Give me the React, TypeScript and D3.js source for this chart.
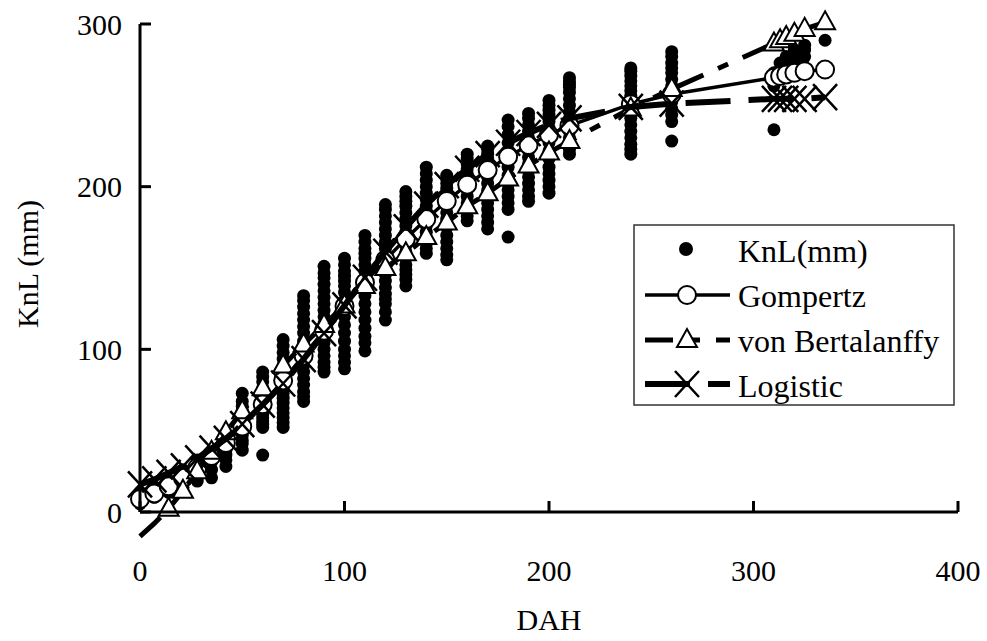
import React from 'react';
import * as d3 from 'd3';

// 观测日 (DAH)
const days = [0, 7, 14, 21, 28, 35, 42, 50, 60, 70, 80, 90, 100, 110, 120, 130, 140, 150, 160, 170, 180, 190, 200, 210, 240, 260, 310, 313, 316, 320, 325, 335];

// 实测 KnL(mm)，每个观测日若干株
const knl = [
  [5, 8, 10, 12],
  [9, 12, 15],
  [12, 15, 19],
  [15, 19, 23, 26],
  [19, 24, 28, 32],
  [21, 26, 31, 36],
  [28, 32, 35, 38, 41, 44, 47],
  [38, 42, 44, 47, 49, 52, 55, 58, 62, 65, 68, 73],
  [35, 52, 54, 56, 58, 60, 63, 66, 69, 72, 76, 80, 83, 86],
  [52, 55, 58, 61, 64, 67, 70, 73, 76, 79, 82, 86, 90, 94, 98, 102, 106],
  [68, 71, 74, 78, 82, 86, 90, 95, 100, 105, 110, 114, 118, 122, 126, 130, 133],
  [86, 89, 92, 96, 100, 104, 108, 112, 116, 120, 124, 128, 132, 136, 140, 144, 147, 151],
  [88, 92, 96, 100, 105, 110, 115, 120, 125, 130, 135, 139, 142, 145, 148, 152, 156],
  [99, 104, 108, 113, 118, 123, 128, 133, 138, 143, 148, 152, 156, 159, 162, 166, 170],
  [118, 123, 128, 131, 134, 138, 142, 146, 150, 154, 158, 162, 166, 170, 174, 178, 182, 186, 189],
  [139, 143, 146, 149, 152, 156, 160, 164, 168, 172, 176, 180, 184, 188, 191, 194, 197],
  [159, 162, 165, 168, 172, 176, 180, 184, 188, 192, 196, 200, 204, 208, 212],
  [155, 158, 162, 166, 170, 175, 180, 184, 188, 192, 196, 199, 202, 205, 207],
  [179, 182, 186, 190, 194, 198, 202, 205, 208, 211, 214, 217, 220],
  [174, 178, 182, 186, 190, 194, 198, 202, 206, 210, 214, 217, 220, 223, 225],
  [169, 186, 190, 194, 198, 202, 207, 212, 217, 222, 227, 232, 237, 241],
  [191, 194, 198, 202, 206, 210, 214, 218, 222, 226, 230, 234, 238, 242, 245],
  [196, 200, 204, 208, 212, 217, 222, 227, 232, 236, 240, 244, 247, 250, 253],
  [220, 223, 226, 230, 234, 238, 242, 246, 250, 254, 258, 261, 263, 265, 267],
  [220, 223, 226, 230, 234, 238, 242, 246, 250, 253, 256, 259, 262, 265, 268, 271, 273],
  [228, 240, 244, 248, 252, 255, 258, 262, 266, 270, 273, 276, 280, 283],
  [235, 262, 266, 270],
  [268, 272, 276],
  [272, 276, 280],
  [276, 280, 284],
  [280, 284, 287],
  [290],
];

// 三个模型的拟合值
const gompertz = [8, 11.4, 15.8, 21, 27.2, 34.4, 42.4, 52.5, 66.2, 80.9, 96.1, 111.4, 126.6, 141.1, 155, 168, 180.1, 191.2, 201.2, 210.2, 218.4, 225.5, 231.9, 237.5, 250.7, 256.8, 267, 268, 269, 270, 271, 272];
const bertalanffy = [-15, -7, 2, 13, 25, 37, 49, 62, 76, 90, 103, 115, 127, 139, 150, 159, 169, 178, 188, 196, 205, 213, 221, 228, 248, 260, 288, 290, 292, 294, 297, 301];
const logistic = [17, 20, 24, 28, 33, 39, 45, 54, 66, 79, 94, 110, 127, 144, 160, 175, 189, 201, 211, 220, 227, 233, 238, 242, 249, 251, 254, 254, 254, 254, 254, 255];

const xTicks = [0, 100, 200, 300, 400];
const yTicks = [0, 100, 200, 300];
const legendLabels = ['KnL(mm)', 'Gompertz', 'von Bertalanffy', 'Logistic'];

const W = 987;
const H = 641;
const FONT = "'Liberation Serif', 'Times New Roman', 'DejaVu Serif', serif";
const FS = 30;

const x = d3.scaleLinear().domain([0, 400]).range([140, 958]);
const y = d3.scaleLinear().domain([0, 300]).range([512, 24]);

const VB_DASH = '28 16 11 16';
const LOG_DASH = '45 18';

const Circle = ({ cx, cy }) => (
  <circle cx={cx} cy={cy} r={9} fill="#fff" stroke="#000" strokeWidth={2} />
);
const Tri = ({ cx, cy }) => (
  <path d={`M${cx},${cy - 11}L${cx - 10},${cy + 7}L${cx + 10},${cy + 7}Z`} fill="#fff" stroke="#000" strokeWidth={2} />
);
const Cross = ({ cx, cy }) => (
  <path d={`M${cx - 12},${cy - 13}L${cx + 12},${cy + 13}M${cx - 12},${cy + 13}L${cx + 12},${cy - 13}`} stroke="#000" strokeWidth={2.5} fill="none" />
);

const txt = { fontFamily: FONT, fontSize: FS, fill: '#000' };
const legTxt = { ...txt, fontSize: 32 };

export default function App() {
  const line = d3.line<[number, number]>().x(d => x(d[0])).y(d => y(d[1]));
  const pts = (vals: number[]) => days.map((d, i) => [d, vals[i]] as [number, number]);

  return (
    <svg width={W} height={H} style={{ position: 'absolute', left: 0, top: 0, background: '#fff' }}>
      <rect width={W} height={H} fill="#fff" />

      {/* 实测点 */}
      {knl.map((col, i) => col.map((v, j) => (
        <circle key={`${i}-${j}`} cx={x(days[i])} cy={y(v)} r={6.5} fill="#000" />
      )))}

      {/* Gompertz */}
      <path d={line(pts(gompertz)) || ''} fill="none" stroke="#000" strokeWidth={3.5} />
      {days.map((d, i) => <Circle key={`g${i}`} cx={x(d)} cy={y(gompertz[i])} />)}

      {/* von Bertalanffy */}
      <path d={line(pts(bertalanffy)) || ''} fill="none" stroke="#000" strokeWidth={5} strokeDasharray={VB_DASH} />
      {days.map((d, i) => bertalanffy[i] >= 0 ? <Tri key={`b${i}`} cx={x(d)} cy={y(bertalanffy[i])} /> : null)}

      {/* Logistic */}
      <path d={line(pts(logistic)) || ''} fill="none" stroke="#000" strokeWidth={6} strokeDasharray={LOG_DASH} />
      {days.map((d, i) => <Cross key={`l${i}`} cx={x(d)} cy={y(logistic[i])} />)}

      {/* 坐标轴 */}
      <line x1={x(0)} x2={x(400)} y1={y(0)} y2={y(0)} stroke="#000" strokeWidth={3} />
      <line x1={x(0)} x2={x(0)} y1={y(0)} y2={y(300)} stroke="#000" strokeWidth={3} />
      {xTicks.map(t => (
        <g key={`xt${t}`}>
          <line x1={x(t)} x2={x(t)} y1={y(0)} y2={y(0) - 11} stroke="#000" strokeWidth={3} />
          <text x={x(t)} y={570} textAnchor="middle" dominantBaseline="central" style={txt}>{t}</text>
        </g>
      ))}
      {yTicks.map(t => (
        <g key={`yt${t}`}>
          <line x1={x(0)} x2={x(0) + 11} y1={y(t)} y2={y(t)} stroke="#000" strokeWidth={3} />
          <text x={122} y={y(t)} textAnchor="end" dominantBaseline="central" style={txt}>{t}</text>
        </g>
      ))}
      <text x={x(200)} y={619} textAnchor="middle" dominantBaseline="central" style={txt}>DAH</text>
      <text transform="translate(27,264) rotate(-90)" textAnchor="middle" dominantBaseline="central" style={txt}>KnL (mm)</text>

      {/* 图例 */}
      <g>
        <rect x={634} y={225} width={320} height={180} fill="#fff" stroke="#333" strokeWidth={1.5} />
        <circle cx={686} cy={249} r={7} fill="#000" />
        <line x1={645} x2={730} y1={295} y2={295} stroke="#000" strokeWidth={3.5} />
        <Circle cx={687} cy={295} />
        <line x1={645} x2={730} y1={340} y2={340} stroke="#000" strokeWidth={5} strokeDasharray={VB_DASH} />
        <Tri cx={687} cy={340} />
        <line x1={645} x2={730} y1={384} y2={384} stroke="#000" strokeWidth={6} strokeDasharray={LOG_DASH} />
        <Cross cx={687} cy={384} />
        {legendLabels.map((s, i) => (
          <text key={s} x={738} y={251 + i * 45} dominantBaseline="central" style={legTxt}>{s}</text>
        ))}
      </g>
    </svg>
  );
}
